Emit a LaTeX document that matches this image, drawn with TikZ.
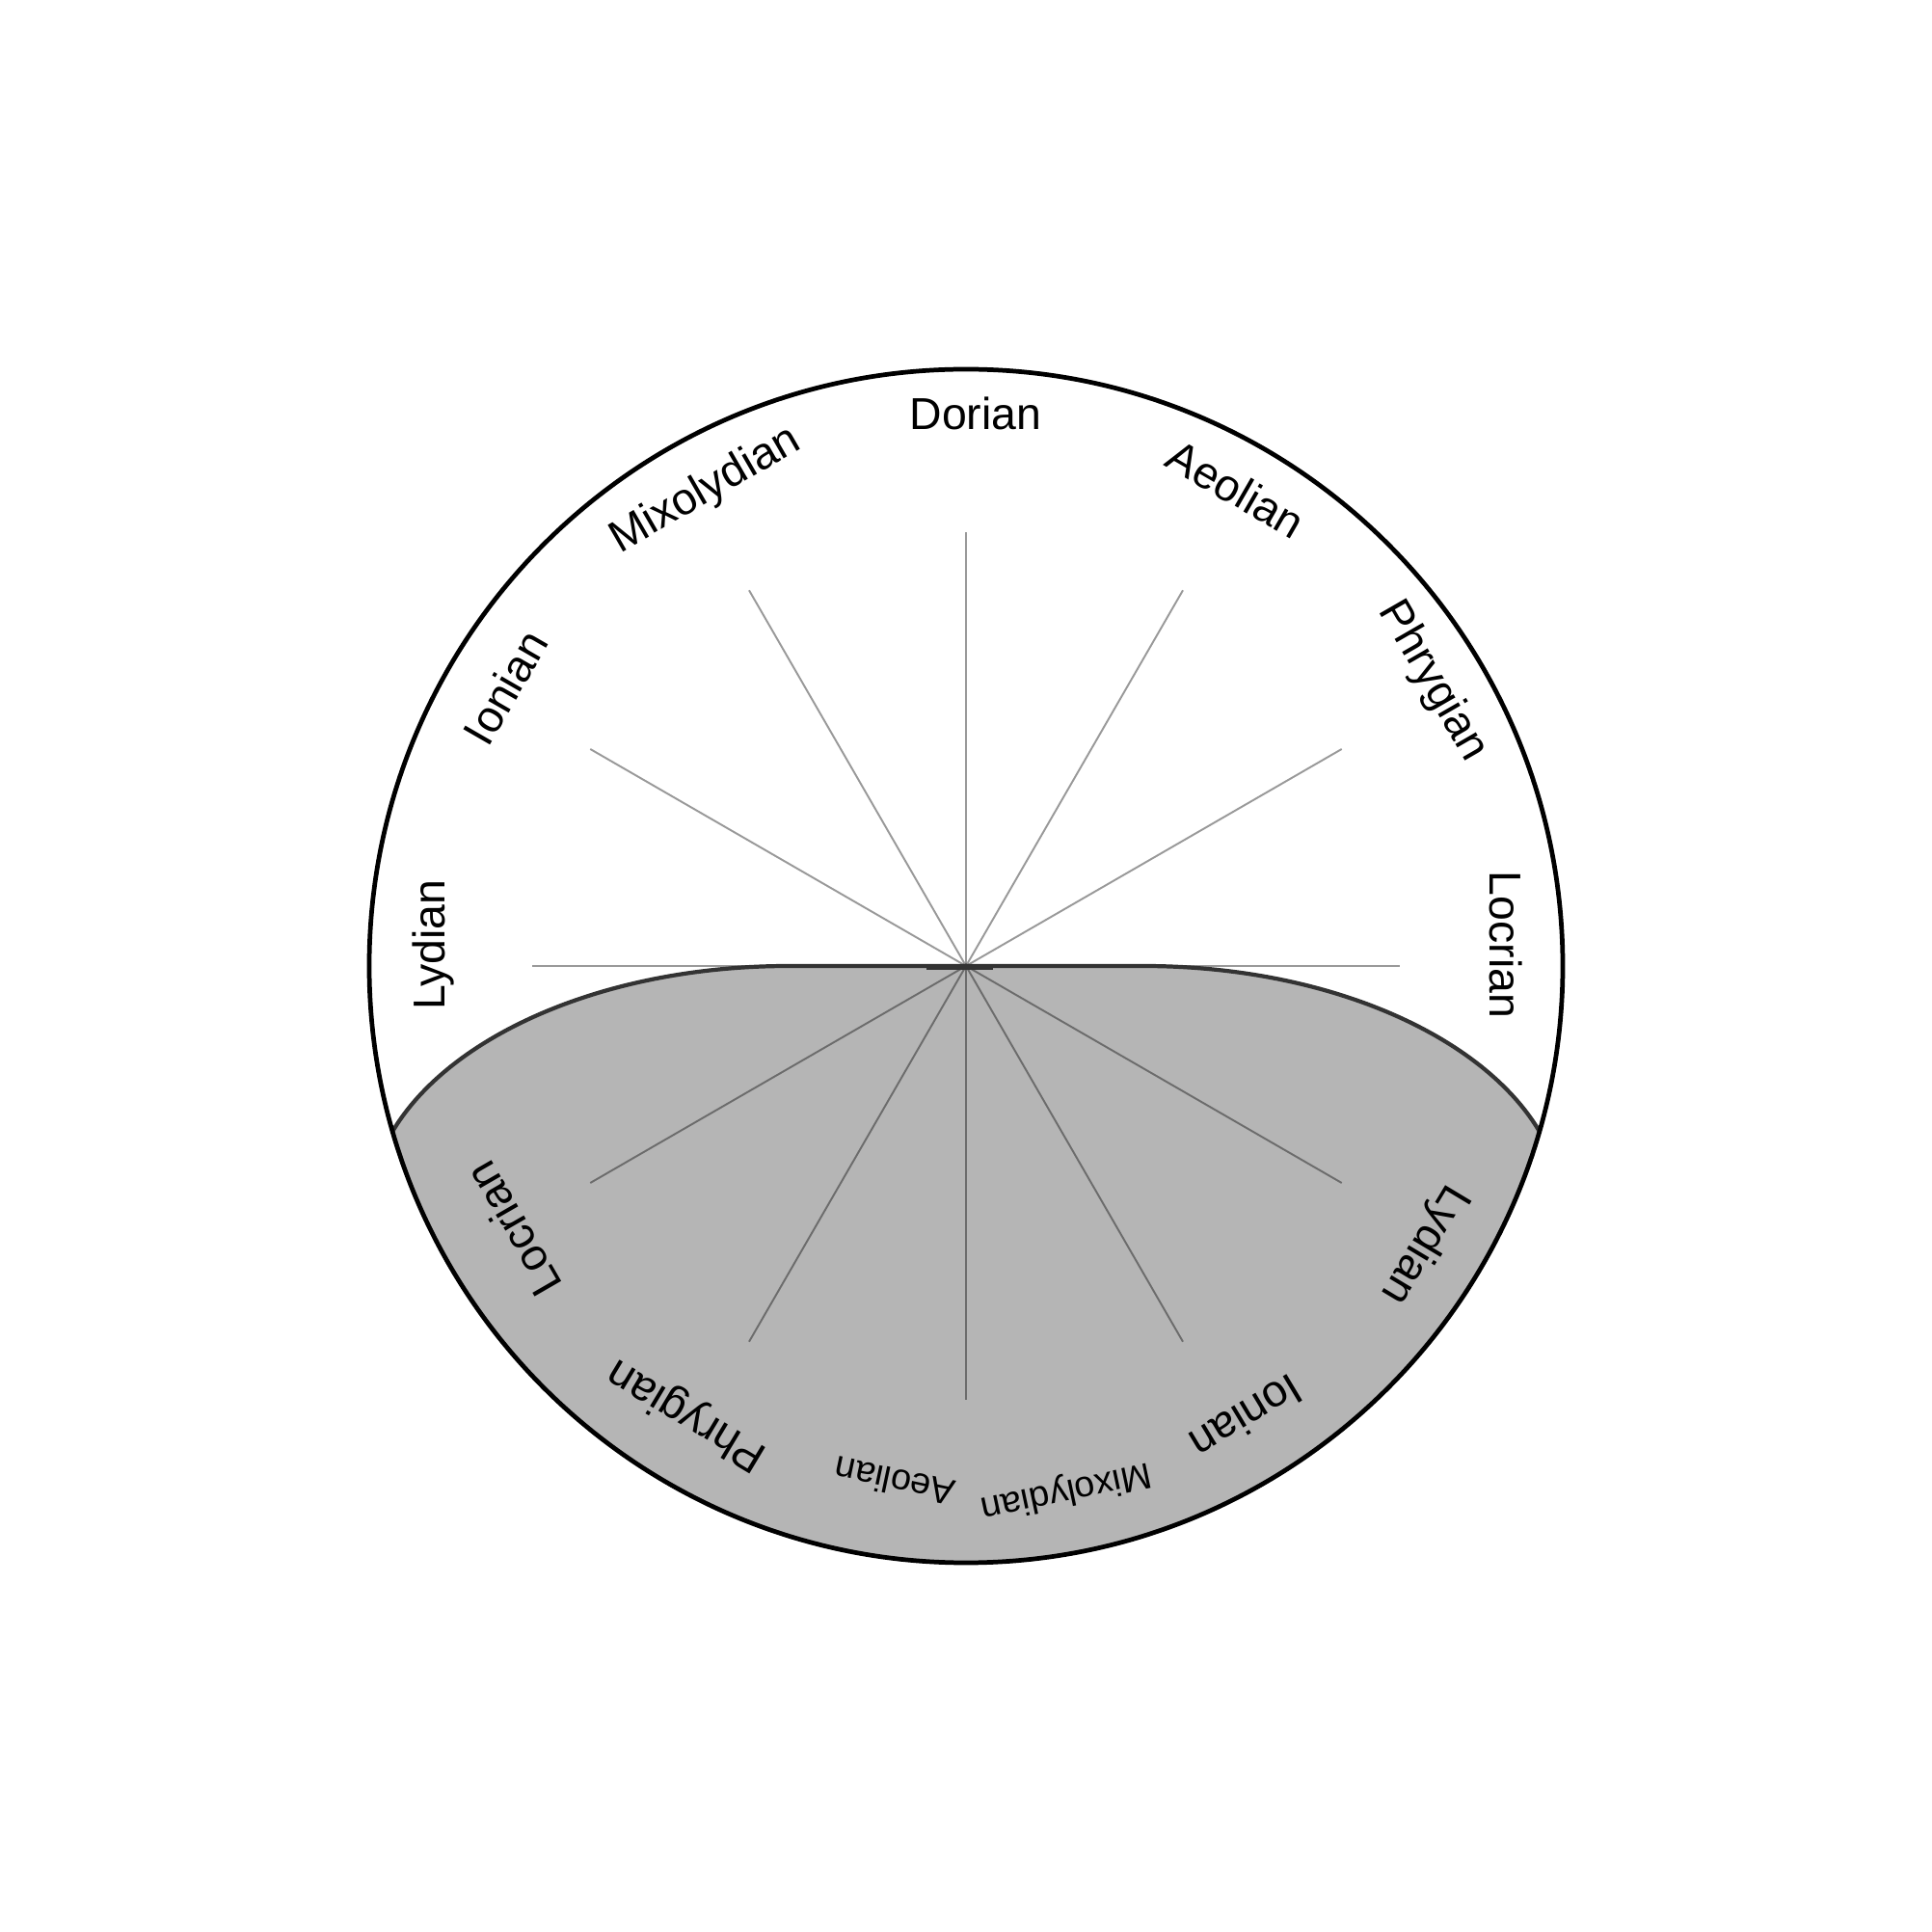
\documentclass[tikz,border=0pt]{standalone}
\usepackage{fontspec}
\setmainfont{Liberation Sans}
\usetikzlibrary{calc}

\definecolor{modegray}{HTML}{B5B5B5}
\definecolor{modeline}{HTML}{333333}

\tikzset{
	spoke/.style={draw=black, draw opacity=0.4, line width=0.55pt},
	modefill/.style={fill=modegray},
	modeedge/.style={draw=modeline, line width=1.2pt},
	rim/.style={draw=black, line width=1.35pt},
	mode/.style={inner sep=0pt, font=\fontsize{13.2}{15}\selectfont},
	smallmode/.style={inner sep=0pt, font=\fontsize{10.8}{13}\selectfont}
}

\begin{document}
\begin{tikzpicture}
	\useasboundingbox (-10.02,-10.02) rectangle (10.02,10.02);
	\coordinate (o) at (0,0);

	% lower shaded region, cut by the rim
	\begin{scope}
		\clip (o) circle (6.19);
		\fill[modefill] (-1.84,0) -- (1.84,0) arc[start angle=90, end angle=0, x radius=4.35, y radius=2.56]
			-- (6.19,-7) -- (-6.19,-7) -- (-6.19,-2.56) arc[start angle=180, end angle=90, x radius=4.35, y radius=2.56] -- cycle;
	\end{scope}

	% spokes
	\foreach \a in {0,30,...,330} {
		\coordinate (s\a) at (\a:4.5);
		\draw[spoke] (o) -- (s\a);
	}

	\begin{scope}
		\clip (o) circle (6.19);
		\draw[modeedge] (-6.19,-2.56) arc[start angle=180, end angle=90, x radius=4.35, y radius=2.56]
			-- (1.84,0) arc[start angle=90, end angle=0, x radius=4.35, y radius=2.56];
	\end{scope}
	\draw[modeedge, line width=1.6pt] (-0.41,-0.01) -- (0.28,-0.01);

	\draw[rim] (o) circle (6.19);

	% upper labels
	\node[mode, rotate=-90] (locrianA) at (5.60,0.22) {Locrian};
	\node[mode, rotate=-60] (phrygianA) at (4.84,2.95) {Phrygian};
	\node[mode, rotate=-30] (aeolianA) at (2.80,4.95) {Aeolian};
	\node[mode] (dorian) at (0.10,5.73) {Dorian};
	\node[mode, rotate=30] (mixolydianA) at (-2.70,4.93) {Mixolydian};
	\node[mode, rotate=60] (ionianA) at (-4.78,2.89) {Ionian};
	\node[mode, rotate=90] (lydianA) at (-5.52,0.22) {Lydian};

	% lower labels
	\node[mode, rotate=-121] (lydianB) at (4.75,-2.89) {Lydian};
	\node[mode, rotate=-149] (ionianB) at (2.91,-4.68) {Ionian};
	\node[smallmode, rotate=-168] (mixolydianB) at (1.04,-5.44) {Mixolydian};
	\node[smallmode, rotate=168] (aeolianB) at (-0.74,-5.35) {Aeolian};
	\node[mode, rotate=149] (phrygianB) at (-2.89,-4.65) {Phrygian};
	\node[mode, rotate=120] (locrianB) at (-4.70,-2.73) {Locrian};
\end{tikzpicture}
\end{document}
